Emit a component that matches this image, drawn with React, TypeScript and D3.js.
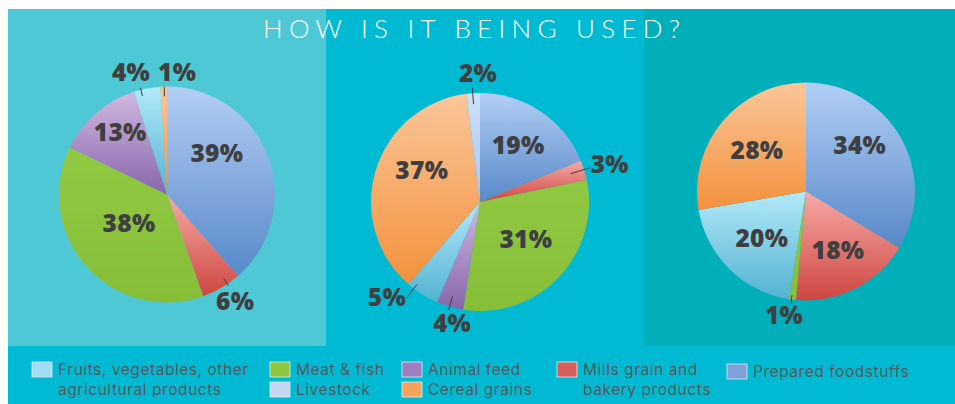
import React from "react";
import * as d3 from "d3";

// ---- data ----
const seriesKeys = ["fruits", "meat", "livestock", "animal", "cereal", "mills", "prepared"];
const legendLines = [
  ["Fruits, vegetables, other", "agricultural products"],
  ["Meat & fish"],
  ["Livestock"],
  ["Animal feed"],
  ["Cereal grains"],
  ["Mills grain and", "bakery products"],
  ["Prepared foodstuffs"],
];

const pie1Keys = ["prepared", "mills", "meat", "animal", "fruits", "cereal"];
const pie1Values = [39, 6, 38, 13, 4, 1];
const pie2Keys = ["prepared", "mills", "meat", "animal", "fruits", "cereal", "livestock"];
const pie2Values = [19, 3, 31, 4, 5, 37, 2];
const pie3Keys = ["prepared", "mills", "meat", "fruits", "cereal"];
const pie3Values = [34, 18, 1, 20, 28];

const title = "HOW IS IT BEING USED?";

// ---- styles / layout ----
const W = 955;
const H = 404;
const gradStops: Record<string, [string, string]> = {
  prepared: ["#B2CEF4", "#5788C9"],
  mills: ["#F6AAA6", "#CE4640"],
  meat: ["#90C941", "#86BE38"],
  animal: ["#D0B9E0", "#8865AB"],
  fruits: ["#B3E9F9", "#52B2D1"],
  cereal: ["#FAC699", "#F3913C"],
  livestock: ["#CCE0F8", "#ADC6EE"],
};
const swatch: Record<string, string> = {
  fruits: "#9EDDF2",
  meat: "#8DC63F",
  livestock: "#C2D7F4",
  animal: "#9D7FBF",
  cereal: "#F5A25C",
  mills: "#D85F59",
  prepared: "#7EA2D8",
};
// label placement: [angleDeg, radiusFraction]; leader: [angleDeg, r0Fraction, r1Fraction] or null
const pies = [
  {
    keys: pie1Keys, values: pie1Values, cx: 167, cy: 194.5, r: 108,
    labels: [[50.3, 0.6], [147.4, 1.17], [233.1, 0.44], [323, 0.72], [343.6, 1.18], [4.7, 1.14]],
    leaders: [null, [146, 0.94, 1.02], null, null, [346, 0.94, 1.02], [358.5, 0.91, 1.0]],
  },
  {
    keys: pie2Keys, values: pie2Values, cx: 480, cy: 202, r: 109,
    labels: [[33.7, 0.63], [73.7, 1.24], [128.8, 0.54], [193, 1.14], [224.4, 1.22], [298.9, 0.61], [359.1, 1.18]],
    leaders: [null, [72.7, 0.87, 1.06], null, [196.2, 0.9, 1.03], [217.4, 0.95, 1.11], null, [356.2, 0.9, 1.05]],
  },
  {
    keys: pie3Keys, values: pie3Values, cx: 806, cy: 191.5, r: 109,
    labels: [[49.3, 0.65], [151.3, 0.61], [190.1, 1.15], [223.4, 0.59], [310.3, 0.59]],
    leaders: [null, null, [187.7, 0.96, 1.03], null, null],
  },
];
const legendItems = [
  { key: "fruits", x: 32, y: 362 },
  { key: "meat", x: 270, y: 362 },
  { key: "livestock", x: 270, y: 382 },
  { key: "animal", x: 402, y: 362 },
  { key: "cereal", x: 402, y: 382 },
  { key: "mills", x: 557, y: 362 },
  { key: "prepared", x: 727, y: 364 },
];

const polar = (cx: number, cy: number, deg: number, rad: number) => {
  const a = (deg * Math.PI) / 180;
  return [cx + rad * Math.sin(a), cy - rad * Math.cos(a)];
};

function Pie({ p, idx }: { p: any; idx: number }) {
  const pieGen = d3.pie<number>().sort(null).value((d) => d);
  const arcs = pieGen(p.values);
  const arcGen = d3.arc<any>().innerRadius(0).outerRadius(p.r);
  return (
    <g>
      <defs>
        {p.keys.map((k: string, i: number) => (
          <linearGradient key={k} id={`g${idx}-${i}`} x1="0" y1="0" x2="0" y2="1">
            <stop offset="0" stopColor={gradStops[k][0]} />
            <stop offset="1" stopColor={gradStops[k][1]} />
          </linearGradient>
        ))}
      </defs>
      <g transform={`translate(${p.cx},${p.cy})`}>
        {arcs.map((a, i) => (
          <path key={i} d={arcGen(a) as string} fill={`url(#g${idx}-${i})`} />
        ))}
      </g>
      {p.leaders.map((l: any, i: number) => {
        if (!l) return null;
        const [x1, y1] = polar(p.cx, p.cy, l[0], l[1] * p.r);
        const [x2, y2] = polar(p.cx, p.cy, l[0], l[2] * p.r);
        return <line key={"l" + i} x1={x1} y1={y1} x2={x2} y2={y2} stroke="#3d3d3d" strokeWidth={1} />;
      })}
      {p.values.map((v: number, i: number) => {
        const [x, y] = polar(p.cx, p.cy, p.labels[i][0], p.labels[i][1] * p.r);
        return (
          <text
            key={"t" + i}
            x={x}
            y={y}
            dy="0.36em"
            textAnchor="middle"
            fontFamily="'Open Sans', sans-serif"
            fontWeight={800}
            fontSize={24.5}
            letterSpacing={0.3}
            fill="#3f3f42"
          >
            {v}%
          </text>
        );
      })}
    </g>
  );
}

export default function App() {
  return (
    <svg
      width={W}
      height={H}
      viewBox={`0 0 ${W} ${H}`}
      style={{ position: "absolute", left: 0, top: 0, background: "#fff" }}
    >
      <rect x={8} y={9} width={W - 8} height={H - 9} fill="#00BAD4" />
      <rect x={8} y={9} width={318} height={337} fill="#4DC8D4" />
      <rect x={644} y={9} width={W - 644} height={337} fill="#00AFB9" />
      <text
        x={471.5}
        y={38}
        textAnchor="middle"
        fontFamily="Lato, sans-serif"
        fontWeight={300}
        fontSize={26}
        fill="#ffffff"
        textLength={417}
        lengthAdjust="spacing"
      >
        {title}
      </text>
      {pies.map((p, i) => (
        <Pie key={i} p={p} idx={i} />
      ))}
      {legendItems.map((it) => {
        const i = seriesKeys.indexOf(it.key);
        return (
          <g key={it.key}>
            <rect x={it.x} y={it.y} width={20} height={15} fill={swatch[it.key]} stroke="#d8eef4" strokeWidth={0.8} />
            <text
              x={it.x + 26}
              y={it.y + 13}
              fontFamily="Inter, sans-serif"
              fontSize={15.5}
              letterSpacing={0.55}
              fill="#505a5e"
            >
              {legendLines[i].map((ln, j) => (
                <tspan key={j} x={it.x + 26} dy={j === 0 ? 0 : 19.5}>
                  {ln}
                </tspan>
              ))}
            </text>
          </g>
        );
      })}
    </svg>
  );
}
